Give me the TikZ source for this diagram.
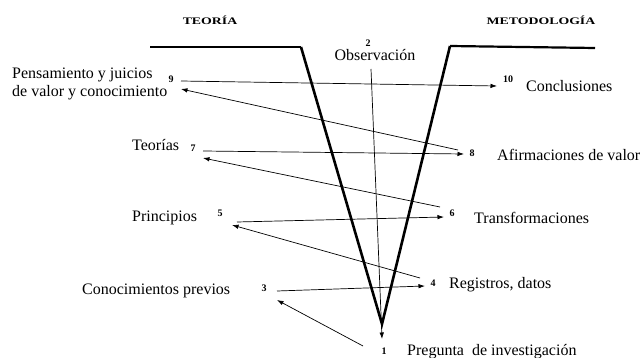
\documentclass[tikz,border=0pt]{standalone}
\usepackage{fontspec}
\setmainfont{Liberation Serif}
\usetikzlibrary{arrows.meta}
\tikzset{
  lbl/.style={inner sep=0pt, anchor=west, font=\fontsize{16}{18}\selectfont},
  num/.style={inner sep=0pt, font=\fontsize{10}{10}\selectfont\bfseries},
  head/.style={inner sep=0pt, font=\fontsize{10}{12}\selectfont\bfseries},
  vee/.style={line width=2.6pt, line join=miter},
  rim/.style={line width=2.2pt},
  conn/.style={line width=0.7pt, -{Latex[length=6.5pt,width=4.5pt]}},
}
\begin{document}
\begin{tikzpicture}[x=1pt,y=-1pt]
\useasboundingbox (0,0) rectangle (642,358);
% headings
\node[head] (teo) at (210,20) {\scalebox{1.38}[1]{TEORÍA}};
\node[head] (met) at (541,20) {\scalebox{1.38}[1]{METODOLOGÍA}};
% V shape
\coordinate (tl) at (150,47);
\coordinate (tli) at (301,47);
\coordinate (vx) at (382,324);
\coordinate (tri) at (450,46);
\coordinate (tr) at (595,48);
\draw[rim] (tl) -- (tli);
\draw[rim] (tri) -- (tr);
\draw[vee] (tli) -- (vx) -- (tri);
% labels
\node[num] (n2) at (368,43) {2};
\node[inner sep=0pt, font=\fontsize{16}{18}\selectfont] (obs) at (375,55) {Observación};
\node[lbl, align=left] (t9) at (12,84) {Pensamiento y juicios\\de valor y conocimiento};
\node[num] (n9) at (171,79) {9};
\node[lbl] (t7) at (132,145) {Teorías};
\node[num] (n7) at (193,148) {7};
\node[lbl] (t5) at (132,218) {Principios};
\node[num] (n5) at (220,213) {5};
\node[lbl] (t3) at (82,291) {Conocimientos previos};
\node[num] (n3) at (264,288) {3};
\node[num] (n10) at (508,79) {10};
\node[lbl] (t10) at (526,86) {Conclusiones};
\node[num] (n8) at (472,153) {8};
\node[lbl] (t8) at (497,155) {Afirmaciones de valor};
\node[num] (n6) at (452,213) {6};
\node[lbl] (t6) at (474,218) {Transformaciones};
\node[num] (n4) at (433,283) {4};
\node[lbl] (t4) at (449,285) {Registros, datos};
\node[num] (n1) at (384,351) {1};
\node[lbl] (t1) at (407,352) {Pregunta\ \ de investigación};
% connector endpoints
\coordinate (o2) at (371,69);
\coordinate (o1) at (382,339);
\coordinate (a9) at (181,81);
\coordinate (a10) at (497,86);
\coordinate (b8) at (458,150);
\coordinate (b9) at (181,89);
\coordinate (a7) at (203,151);
\coordinate (a8) at (464,154);
\coordinate (b6) at (440,207);
\coordinate (b7) at (203,158);
\coordinate (a5) at (237,222);
\coordinate (a6) at (444,217);
\coordinate (b4) at (420,278);
\coordinate (b5) at (232,225);
\coordinate (a3) at (277,291);
\coordinate (a4) at (425,286);
\coordinate (b1) at (363,346);
\coordinate (b3) at (277,300);
% connectors
\draw[conn] (o2) -- (o1);
\draw[conn] (a9) -- (a10);
\draw[conn] (b8) -- (b9);
\draw[conn] (a7) -- (a8);
\draw[conn] (b6) -- (b7);
\draw[conn] (a5) -- (a6);
\draw[conn] (b4) -- (b5);
\draw[conn] (a3) -- (a4);
\draw[conn] (b1) -- (b3);
\end{tikzpicture}
\end{document}
